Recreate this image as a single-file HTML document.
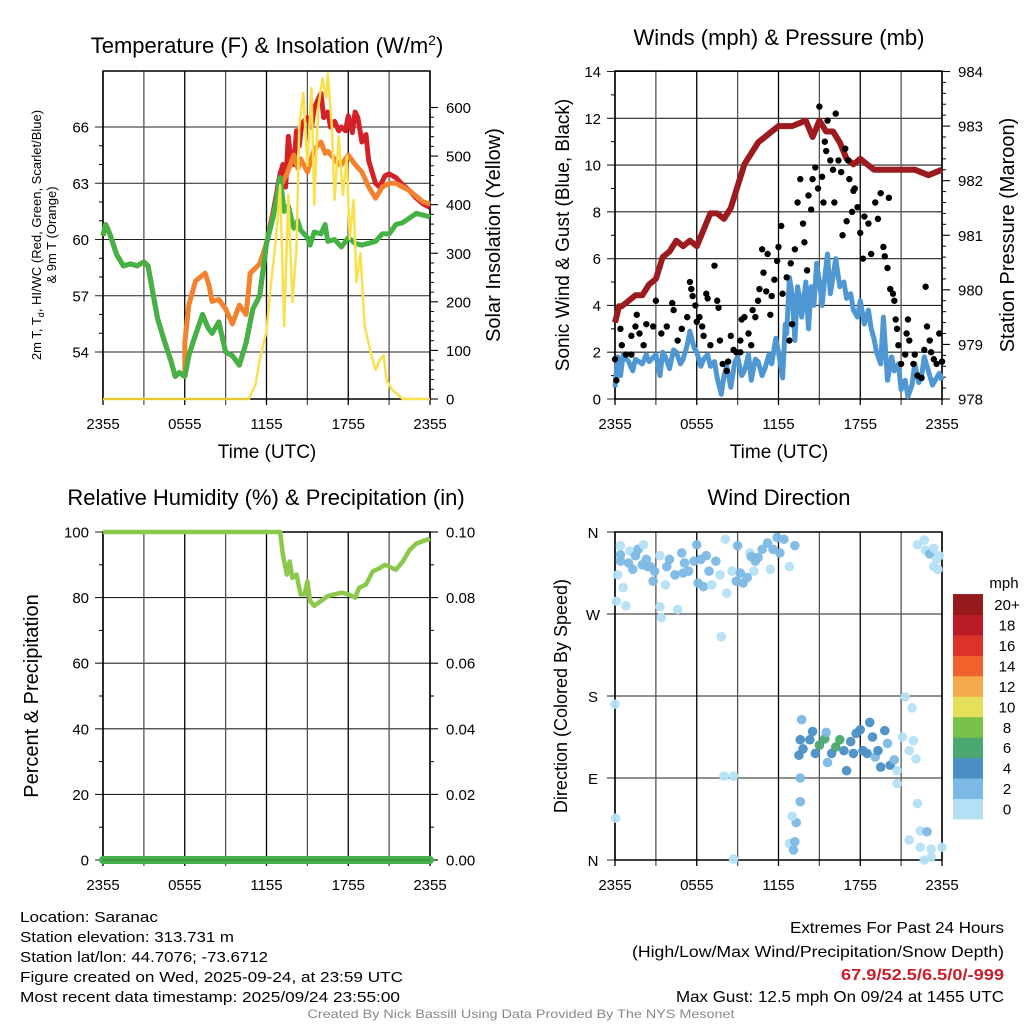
<!DOCTYPE html>
<html><head><meta charset="utf-8"><style>
html,body{margin:0;padding:0;background:#fff;}
svg{display:block;font-family:"Liberation Sans",Arial,sans-serif;}
.n{font-family:"Liberation Sans Narrow","Liberation Sans",sans-serif;}
</style></head><body>
<svg id="c" width="1024" height="1024" viewBox="0 0 1024 1024" xmlns="http://www.w3.org/2000/svg">
<rect width="1024" height="1024" fill="#fff"/>
</svg>
<script>
// ---------- DATA ----------
const timeLabels = ["2355","0555","1155","1755","2355"];
const tempTicks = [54,57,60,63,66];
const solarTicks = [0,100,200,300,400,500,600];
const windTicks = [0,2,4,6,8,10,12,14];
const presTicks = [978,979,980,981,982,983,984];
const rhTicks = [0,20,40,60,80,100];
const precipTicks = ["0.00","0.02","0.04","0.06","0.08","0.10"];
const dirLabels = ["N","W","S","E","N"];
const speedBins = ["0","2","4","6","8","10","12","14","16","18","20+"];
const speedColors = ["#b4e0f6","#7cb9e4","#4a8fc6","#4aa76e","#7ac14b","#e5df59","#f5a94a","#ef622c","#dc3228","#bb1c25","#951a1c"];

const earlyT = [[0,60.2],[0.2,60.8],[0.5,60.3],[1,59.2],[1.5,58.6],[2,58.7],[2.5,58.6],[3,58.8],[3.3,58.6],[3.7,57.0],[4,55.8],[4.5,54.6],[5,53.5],[5.3,52.7],[5.6,52.9],[6,52.7]];
const greenMid = [[6.3,53.8],[6.6,54.5],[7.3,56.0],[7.7,55.3],[8,55.0],[8.5,55.6],[9,54.0],[9.5,53.8],[10,53.3],[10.5,54.5],[11,56.3],[11.5,57.0],[12,59.8]];
const tempRedLate = [[12.5,61.5],[13,63.5],[13.2,64.0],[13.4,62.8],[13.6,65.5],[13.8,64.2],[14,64.0],[14.2,65.8],[14.4,65.0],[14.6,66.2],[15,66.5],[15.3,66.0],[15.5,67.0],[15.8,67.5],[16,67.8],[16.2,66.5],[16.5,66.8],[16.7,66.0],[17,66.3],[17.3,65.8],[17.5,66.0],[17.8,65.8],[18,66.6],[18.3,65.7],[18.5,66.8],[18.7,66.5],[19,65.2],[19.3,65.6],[19.5,64.2],[20,63.0],[20.3,62.8],[20.7,63.4],[21,63.5],[21.5,63.3],[22,62.9],[22.5,62.6],[23,62.2],[23.5,61.9],[24,61.7]];
const tempOrangeMid = [[6,54.5],[6.3,56.5],[6.8,57.8],[7.5,58.2],[7.8,57.5],[8,56.7],[8.5,56.8],[9,56.3],[9.5,55.5],[10,56.5],[10.5,56.0],[10.8,58.2],[11.5,58.7],[12,59.8],[12.5,61.3],[13,62.8],[13.5,63.5],[14,64.5],[14.3,63.8],[14.5,64.3],[15,63.6],[15.5,64.8],[16,65.2],[16.3,64.6],[16.5,64.7],[17,64.3],[17.3,64.0],[17.5,64.0],[18,64.5],[18.5,64.0],[19,63.6],[19.5,62.8],[20,62.2],[20.5,62.8],[21,63.0],[21.5,63.0],[22,62.8],[22.5,62.6],[23,62.3],[23.5,62.0],[24,61.9]];
const dewLate = [[12.5,61.2],[13,63.3],[13.3,61.5],[13.6,61.8],[14,60.6],[14.3,61.0],[14.5,60.5],[15,60.1],[15.2,59.7],[15.5,60.4],[16,60.3],[16.3,60.8],[16.5,59.9],[17,60.0],[17.5,59.6],[18,60.1],[18.5,59.8],[19,59.7],[19.5,59.8],[20,59.9],[20.5,60.3],[21,60.3],[21.5,60.8],[22,60.9],[23,61.4],[24,61.2]];
const solar = [[0,0],[10.7,0],[11.2,30],[11.5,80],[12,140],[12.3,230],[12.7,330],[13,440],[13.3,150],[13.6,420],[13.9,200],[14.2,310],[14.4,560],[14.7,630],[15,480],[15.3,640],[15.5,400],[15.8,600],[16.1,660],[16.4,620],[16.5,670],[16.8,560],[17,410],[17.3,540],[17.6,420],[17.9,500],[18.1,330],[18.4,410],[18.6,240],[18.9,300],[19.2,150],[19.7,90],[20,60],[20.3,80],[20.6,90],[20.8,40],[21.2,20],[22,0],[24,0]];

const pressure = [[0,979.4],[0.3,979.7],[0.5,979.7],[1,979.8],[1.5,979.9],[2,979.9],[2.5,980.1],[3,980.2],[3.5,980.6],[4,980.7],[4.5,980.9],[5,980.8],[5.5,980.9],[6,980.8],[7,981.4],[7.5,981.4],[8,981.3],[8.5,981.5],[9,981.9],[9.5,982.3],[10,982.5],[10.5,982.7],[11,982.8],[11.5,982.9],[12,983.0],[12.5,983.0],[13,983.0],[14,983.1],[14.5,982.8],[15,983.1],[15.5,982.9],[16,982.9],[16.5,982.7],[17,982.4],[17.5,982.3],[18,982.4],[18.5,982.3],[19,982.2],[19.5,982.2],[20,982.2],[21,982.2],[22,982.2],[23,982.1],[24,982.2]];
const windSpeed = [[0,0.5],[0.2,1.8],[0.4,1.0],[0.6,1.9],[1,1.6],[1.3,1.2],[1.5,1.7],[2,1.5],[2.3,1.9],[2.5,1.6],[3,1.9],[3.3,1.0],[3.5,2.0],[3.7,1.8],[4,1.3],[4.3,2.1],[4.5,2.0],[4.8,1.5],[5,1.7],[5.3,2.3],[5.5,2.9],[5.8,2.2],[6,2.0],[6.3,1.4],[6.5,1.7],[6.8,1.9],[7,1.4],[7.3,1.6],[7.5,0.9],[7.8,0.2],[8,1.0],[8.2,1.4],[8.5,0.5],[8.8,1.6],[9,1.8],[9.3,1.0],[9.5,1.2],[9.8,1.9],[10,0.8],[10.3,1.7],[10.5,1.6],[10.8,1.0],[11,1.3],[11.3,1.9],[11.5,1.5],[11.8,2.6],[12,2.0],[12.3,0.9],[12.5,3.2],[12.6,2.8],[12.8,5.2],[13,4.5],[13.2,2.5],[13.4,4.8],[13.5,4.5],[13.7,3.5],[14,5.0],[14.2,3.0],[14.4,4.8],[14.6,4.0],[14.8,5.8],[15,5.0],[15.2,4.0],[15.4,5.2],[15.6,6.2],[15.8,4.5],[16,5.2],[16.2,6.0],[16.5,4.8],[16.8,5.0],[17,4.3],[17.3,4.5],[17.5,3.8],[17.8,3.5],[18,4.2],[18.3,3.2],[18.6,3.8],[18.8,3.0],[19,2.6],[19.2,2.0],[19.5,1.5],[19.7,3.5],[20,0.8],[20.3,1.8],[20.5,1.2],[20.8,1.5],[21,0.4],[21.3,0.8],[21.5,0.1],[21.8,0.6],[22,1.5],[22.3,0.7],[22.5,1.0],[22.7,1.8],[23,1.2],[23.3,0.6],[23.5,0.8],[23.8,1.1],[24,0.8]];
const gusts = [[0,1.7],[0.1,0.8],[0.4,3.0],[0.5,2.3],[0.8,1.9],[1.2,1.9],[1.2,2.7],[1.6,3.6],[1.5,3.1],[1.8,2.8],[2.1,2.3],[2.3,3.2],[2.8,3.1],[3.0,4.2],[3.4,2.8],[3.8,3.1],[4.2,4.1],[4.3,3.8],[4.6,2.5],[4.9,3.0],[5.3,3.5],[5.5,5.0],[5.6,4.7],[5.7,4.4],[5.9,4.0],[6.0,3.3],[6.2,3.5],[6.4,3.1],[6.5,2.7],[6.7,4.5],[6.8,4.3],[7.0,2.3],[7.3,5.7],[7.5,4.2],[7.6,3.9],[7.7,2.5],[7.9,1.5],[8.2,1.2],[8.3,1.6],[8.5,2.7],[8.7,2.1],[8.9,2.0],[9.2,2.5],[9.2,2.0],[9.3,3.4],[9.5,3.5],[9.8,2.8],[10.0,2.3],[10.1,3.8],[10.3,3.5],[10.5,4.2],[10.6,4.7],[10.8,6.4],[10.9,5.4],[11.1,4.6],[11.2,6.2],[11.4,3.6],[11.5,4.4],[11.7,5.1],[11.9,5.9],[12.0,6.5],[12.2,7.4],[12.3,4.5],[12.6,5.2],[12.8,2.5],[12.9,5.8],[13.0,3.2],[13.2,6.4],[13.4,8.4],[13.6,9.4],[13.8,7.5],[13.9,6.7],[14.1,5.5],[14.2,8.7],[14.4,8.1],[14.5,9.4],[14.7,9.9],[14.9,9.0],[15.0,12.5],[15.2,9.5],[15.3,8.4],[15.4,11.0],[15.5,10.6],[15.6,11.9],[15.8,10.2],[16.0,9.8],[16.1,8.4],[16.2,12.2],[16.4,10.2],[16.6,9.7],[16.7,7.0],[16.9,10.7],[17.0,7.6],[17.1,10.2],[17.2,9.4],[17.4,8.0],[17.5,8.9],[17.6,9.0],[17.8,8.2],[18.0,7.1],[18.2,6.0],[18.3,7.8],[18.6,7.5],[18.8,6.2],[19.1,8.4],[19.3,7.7],[19.5,8.8],[19.7,6.5],[19.8,6.1],[20.0,5.6],[20.1,8.6],[20.2,4.7],[20.4,4.5],[20.5,4.2],[20.6,3.4],[20.7,3.0],[20.8,2.3],[21.0,1.5],[21.3,1.9],[21.4,2.8],[21.5,3.4],[21.6,2.5],[21.9,1.5],[22.0,1.9],[22.2,1.0],[22.5,0.9],[22.7,2.1],[22.8,4.8],[22.9,3.1],[23.1,2.5],[23.2,2.0],[23.4,1.7],[23.6,1.5],[23.8,2.8],[24.0,1.6]];

const rh = [[0,100],[13,100],[13.2,93],[13.5,87],[13.7,91],[13.9,86],[14.2,87],[14.5,81],[14.8,81],[15,85],[15.2,79],[15.5,77.5],[16,79],[16.5,80.5],[17,81],[17.5,81.5],[18,81],[18.5,80],[18.8,83],[19.3,84],[19.8,88],[20.3,89],[20.7,90],[21.5,88.5],[22,91],[22.5,94.5],[23,96.5],[24,98]];
const precip = [[0,0],[24,0]];

const dirT = [0.4,0.2,0.4,0.4,0.6,0.1,0.8,1.1,1.3,1.5,1.7,2.0,2.1,2.3,2.6,2.8,2.9,3.3,3.3,3.4,3.7,3.8,4.0,4.4,4.6,4.9,5.1,5.4,5.8,6.0,6.1,6.5,6.7,6.9,7.1,7.4,7.7,7.8,8.1,8.2,8.6,8.7,8.9,9.2,9.4,9.7,9.9,10.2,10.3,10.5,10.8,11.2,11.4,11.6,11.9,12.1,12.4,12.8,13.2,8.7,13.7,13.6,13.6,13.3,13.0,12.8,13.2,13.1,13.6,13.5,13.8,14.3,14.5,14.7,15.0,15.4,15.5,15.6,15.9,16.2,16.5,16.8,17.0,17.3,17.5,17.7,18.0,18.2,18.5,18.7,18.9,19.1,19.3,19.5,19.8,20.0,20.2,20.5,20.7,20.7,21.1,21.3,21.8,21.6,21.9,22.1,22.2,22.4,21.6,22.9,22.4,22.7,23.2,24.0,23.2,22.2,22.7,22.8,23.1,23.4,23.4,23.7,23.8,23.6,0.0,0.05,8.0,1.0,2.4,5.0,6.3,9.0,10.0];
const dirDeg = [345,313,335,328,299,284,279,339,319,334,341,324,346,330,322,306,317,334,278,266,302,322,330,313,275,337,326,317,328,346,304,300,334,317,302,328,313,245,352,293,317,92,306,315,304,310,337,317,328,332,341,348,319,341,354,337,352,322,345,1,154,90,64,41,48,18,20,11,132,115,122,132,141,117,126,133,140,107,117,124,132,120,98,130,117,139,143,120,117,151,135,113,120,102,142,128,104,110,98,84,135,179,167,120,131,111,62,32,22,31,14,0,3,14,12,346,351,340,336,342,322,319,334,330,171,46,92,326,322,315,330,345,333];
const dirSpd = [1,1,3,3,1,1,1,1,3,3,3,3,1,3,3,3,3,1,1,1,1,3,3,3,1,3,3,3,3,3,3,3,3,3,1,3,1,1,1,1,1,1,3,3,3,3,1,1,3,3,3,3,1,3,3,3,3,1,3,1,3,3,3,3,1,1,3,3,4,4,4,4,4,4,6,6,3,3,4,6,6,4,4,4,4,4,4,4,4,4,4,3,4,4,4,3,4,3,1,1,1,1,1,1,1,1,1,1,1,3,1,1,1,1,1,1,1,1,3,1,1,1,1,1,1,1,1,3,3,3,3,3,3];

// ---------- HELPERS ----------
const NS="http://www.w3.org/2000/svg";
const svg=document.getElementById('c');
function mk(tag,attrs,parent){const e=document.createElementNS(NS,tag);for(const k in attrs)e.setAttribute(k,attrs[k]);(parent||svg).appendChild(e);return e;}
function txt(s,x,y,size,anchor,parent,extra){const e=mk('text',Object.assign({x:x,y:y,'font-size':size,'text-anchor':anchor||'middle',fill:'#000'},extra||{}),parent);e.textContent=s;return e;}
function lin(d0,d1,r0,r1){return v=>r0+(v-d0)*(r1-r0)/(d1-d0);}
function pathD(arr,sx,sy){return arr.map((p,i)=>(i?'L':'M')+sx(p[0]).toFixed(1)+','+sy(p[1]).toFixed(1)).join('');}

function frame(P,name){
  const g=mk('g',{});
  
  
  for(let h=0;h<=24;h+=3){const x=P.sx(h);mk('line',{x1:x,x2:x,y1:P.y0,y2:P.y1+6,stroke:(h%6===0)?'#000':'#555','stroke-width':1.3},g);}
  const xl=mk('g',{});
  
  
  timeLabels.forEach((s,i)=>txt(s,P.sx(i*6),P.y1+30,15,'middle',xl));
  mk('rect',{x:P.x0,y:P.y0,width:P.x1-P.x0,height:P.y1-P.y0,fill:'none',stroke:'#000','stroke-width':1.5},g);
}
function hgrid(P,vals,sy,labels,side,name,minor){
  const g=mk('g',{});
  
  
  vals.forEach((v,i)=>{const y=sy(v);
    if(side==='L'){mk('line',{x1:P.x0-8,x2:P.x1,y1:y,y2:y,stroke:'#222','stroke-width':1.1},g);txt(labels[i],P.x0-14,y+5.5,15,'end',g);}
    else{mk('line',{x1:P.x1,x2:P.x1+8,y1:y,y2:y,stroke:'#000','stroke-width':1.1},g);txt(labels[i],P.x1+16,y+5.5,15,'start',g);}
  });
  if(minor){for(let i=0;i<vals.length-1;i++){for(let k=1;k<minor;k++){const y=sy(vals[i])+(sy(vals[i+1])-sy(vals[i]))*k/minor;
    if(side==='L')mk('line',{x1:P.x0-4,x2:P.x0,y1:y,y2:y,stroke:'#000','stroke-width':1},g);else mk('line',{x1:P.x1,x2:P.x1+4,y1:y,y2:y,stroke:'#000','stroke-width':1},g);}}}
}
function rot(s,x,y,size,name,extra){const e=txt(s,x,y,size,'middle',svg,Object.assign({transform:'rotate(-90 '+x+' '+y+')'},extra||{}));return e;}
function title(s,x,y,name){const e=txt(s,x,y,22,'middle');return e;}

// ---------- PANEL 1: Temperature ----------
const P1={x0:103,x1:430,y0:71,y1:399};P1.sx=lin(0,24,P1.x0,P1.x1);
const tY=lin(60,66,239.5,127), sY=lin(0,600,399,107.5);
hgrid(P1,tempTicks,tY,tempTicks.map(String),'L','temp-y-axis',3);
hgrid(P1,solarTicks,sY,solarTicks.map(String),'R','solar-y-axis',5);
frame(P1,'temp-panel');
const red=mk('path',{d:pathD(earlyT.concat(greenMid,tempRedLate),P1.sx,tY),fill:'none',stroke:'#d42027','stroke-width':5,'stroke-linejoin':'round'});


const orng=mk('path',{d:pathD(earlyT.concat(tempOrangeMid),P1.sx,tY),fill:'none',stroke:'#f3822f','stroke-width':5,'stroke-linejoin':'round'});


const grn=mk('path',{d:pathD(earlyT.concat(greenMid,dewLate),P1.sx,tY),fill:'none',stroke:'#44b244','stroke-width':5,'stroke-linejoin':'round'});


const yel=mk('path',{d:pathD(solar,P1.sx,sY),fill:'none',stroke:'#f9e04c','stroke-width':2.5,'stroke-linejoin':'round'});


mk('line',{x1:P1.x0,x2:P1.sx(10.7),y1:399,y2:399,stroke:'#e8c830','stroke-width':2});
const t1=txt('',267,53,22);t1.innerHTML='Temperature (F) &amp; Insolation (W/m<tspan dy="-8" font-size="14">2</tspan><tspan dy="8">)</tspan>';


const xt1=txt('Time (UTC)',267,458,19);


const yl1=txt('',41,235,13,'middle',svg,{transform:'rotate(-90 41 235)'});yl1.innerHTML='2m T, T<tspan font-size="9" dy="3">d</tspan><tspan dy="-3">, HI/WC (Red, Green, Scarlet/Blue)</tspan>';


rot('& 9m T (Orange)',56,235,13,'temp-y-axis-title-2');
rot('Solar Insolation (Yellow)',500,235,20,'solar-y-axis-title');

// ---------- PANEL 2: Winds ----------
const P2={x0:615,x1:942,y0:71,y1:399};P2.sx=lin(0,24,P2.x0,P2.x1);
const wY=lin(0,14,399,71.5), pY=lin(978,984,399,71.5);
hgrid(P2,windTicks,wY,windTicks.map(String),'L','wind-y-axis',2);
hgrid(P2,presTicks,pY,presTicks.map(String),'R','pressure-y-axis',5);
frame(P2,'wind-panel');
const pr=mk('path',{d:pathD(pressure,P2.sx,pY),fill:'none',stroke:'#9b1b1f','stroke-width':6,'stroke-linejoin':'round'});


const ws=mk('path',{d:pathD(windSpeed,P2.sx,wY),fill:'none',stroke:'#4f97d2','stroke-width':5,'stroke-linejoin':'round'});


const gg=mk('g',{});


gusts.forEach(p=>{const c=mk('circle',{cx:P2.sx(p[0]),cy:wY(p[1]),r:3.2,fill:'#000'},gg);

});
title('Winds (mph) & Pressure (mb)',779,45,'wind-title');
const xt2=txt('Time (UTC)',779,458,19);


rot('Sonic Wind & Gust (Blue, Black)',569,235,19,'wind-y-axis-title');
rot('Station Pressure (Maroon)',1014,235,20,'pressure-y-axis-title');

// ---------- PANEL 3: RH ----------
const P3={x0:103,x1:430,y0:532,y1:860};P3.sx=lin(0,24,P3.x0,P3.x1);
const rY=lin(0,100,860,532), qY=lin(0,0.1,860,532);
hgrid(P3,rhTicks,rY,rhTicks.map(String),'L','rh-y-axis',2);
hgrid(P3,precipTicks.map(Number),qY,precipTicks,'R','precip-y-axis',2);
frame(P3,'rh-panel');
const rl=mk('path',{d:pathD(rh,P3.sx,rY),fill:'none',stroke:'#8cc84b','stroke-width':4.5,'stroke-linejoin':'round'});


const pl=mk('path',{d:pathD(precip,P3.sx,qY),fill:'none',stroke:'#46b04a','stroke-width':8,'stroke-linecap':'round'});


mk('line',{x1:P3.x0,x2:P3.x1,y1:860,y2:860,stroke:'#2f7d32','stroke-width':1});
title('Relative Humidity (%) & Precipitation (in)',266,505,'rh-title');
rot('Percent & Precipitation',38,696,20,'rh-y-axis-title');

// ---------- PANEL 4: Wind direction ----------
const P4={x0:615,x1:942,y0:532,y1:860};P4.sx=lin(0,24,P4.x0,P4.x1);
const dY=lin(360,0,532,860);
(function(){const g=mk('g',{});


dirLabels.forEach((s,i)=>{const y=dY(360-i*90);mk('line',{x1:P4.x0-8,x2:P4.x1,y1:y,y2:y,stroke:'#222','stroke-width':1.1},g);txt(s,P4.x0-22,y+6,15,'middle',g);});})();
frame(P4,'direction-panel');
const dg=mk('g',{});


dirT.forEach((t,i)=>{const s=dirSpd[i];const bin=Math.min(10,Math.floor(s/2));
const c=mk('circle',{cx:P4.sx(t),cy:dY(dirDeg[i]),r:4.8,fill:speedColors[bin],'fill-opacity':0.95},dg);

});
title('Wind Direction',779,505,'direction-title');
rot('Direction (Colored By Speed)',567,696,18,'direction-y-axis-title');
// colorbar
const cb=mk('g',{});


speedBins.forEach((s,i)=>{const y=819-(i+1)*20.45;
const r=mk('rect',{x:953,y:y,width:30,height:20.9,fill:speedColors[i]},cb);


txt(s,1007,y+16,15,'middle',cb);});
const mph=txt('mph',1004,588,15);



// ---------- FOOTER ----------
const foot=mk('g',{class:'n'});


[["Location: Saranac",138],["Station elevation: 313.731 m",214],["Station lat/lon: 44.7076; -73.6712",248],["Figure created on Wed, 2025-09-24, at 23:59 UTC",383],["Most recent data timestamp: 2025/09/24 23:55:00",380]].forEach((l,i)=>{
  txt(l[0],20,922+i*20,15,'start',foot,{textLength:l[1],lengthAdjust:'spacingAndGlyphs'});});
const ex=mk('g',{class:'n'});


txt('Extremes For Past 24 Hours',1004,933,16,'end',ex,{textLength:214,lengthAdjust:'spacingAndGlyphs'});
txt('(High/Low/Max Wind/Precipitation/Snow Depth)',1004,957,16,'end',ex,{textLength:372,lengthAdjust:'spacingAndGlyphs'});
txt('67.9/52.5/6.5/0/-999',1004,980,16,'end',ex,{fill:'#c8202a','font-weight':'bold',textLength:163,lengthAdjust:'spacingAndGlyphs'});
txt('Max Gust: 12.5 mph On 09/24 at 1455 UTC',1004,1002,16,'end',ex,{textLength:328,lengthAdjust:'spacingAndGlyphs'});
const cr=txt('Created By Nick Bassill Using Data Provided By The NYS Mesonet',521,1018,12,'middle',svg,{fill:'#888',class:'n',textLength:427,lengthAdjust:'spacingAndGlyphs'});


</script>
</body></html>
